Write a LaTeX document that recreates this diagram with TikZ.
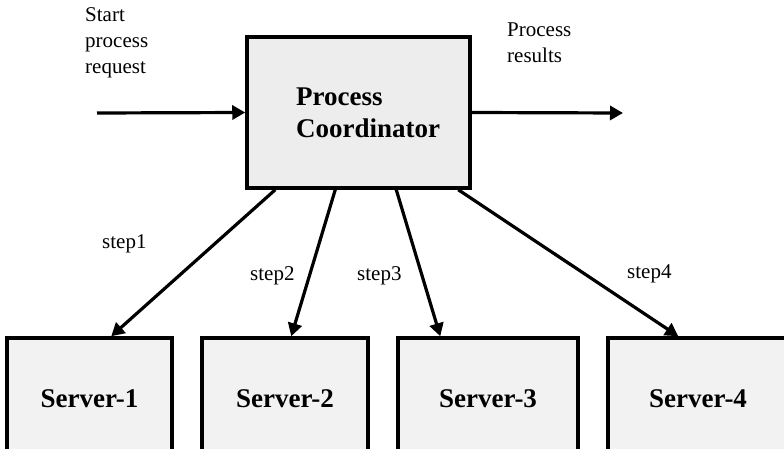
\documentclass[tikz,border=0pt]{standalone}
\usepackage{fontspec}
\setmainfont{Liberation Serif}
\usetikzlibrary{arrows.meta,calc}
\begin{document}
\begin{tikzpicture}[x=1pt,y=-1pt,
  coordbox/.style={draw=black,line width=3.5pt,fill=black!7,inner sep=0pt,minimum width=223pt,minimum height=151pt},
  serverbox/.style={draw=black,line width=3.5pt,fill=black!5,inner sep=0pt,minimum height=122pt,font=\bfseries\fontsize{27}{32}\selectfont},
  link/.style={line width=3.2pt,-{Triangle[length=13pt,width=14pt]}},
  lbl/.style={font=\fontsize{21}{26}\selectfont,inner sep=0pt,align=left},
  biglbl/.style={font=\bfseries\fontsize{27}{32}\selectfont,inner sep=0pt,align=left}
]
\useasboundingbox (0,0) rectangle (784,457);
\begin{scope}
\clip (0,0) rectangle (784,448);
\node[coordbox] (coord) at (358.5,112.5) {};
\node[biglbl,anchor=base west] (coordlbl) at (296,138) {Process\\Coordinator};
\node[serverbox,minimum width=165pt] (s1) at (89.5,399) {Server-1};
\node[serverbox,minimum width=166pt] (s2) at (285,399) {Server-2};
\node[serverbox,minimum width=180pt] (s3) at (488,399) {Server-3};
\node[serverbox,minimum width=180pt] (s4) at (698,399) {Server-4};
\end{scope}
\coordinate (inp) at (97,113);
\coordinate (outp) at (623,113);
\draw[link] (inp) -- (coord.west);
\draw[link] (coord.east) -- (outp);
\draw[link] ($(coord.south west)+(30,0)$) -- ($(s1.north west)+(106,0)$);
\draw[link] ($(coord.south west)+(90,0)$) -- ($(s2.north west)+(91,0)$);
\draw[link] ($(coord.south west)+(151,0)$) -- ($(s3.north west)+(44,0)$);
\draw[link] ($(coord.south west)+(213,0)$) -- ($(s4.north west)+(72,0)$);
\node[lbl,anchor=base west] (startlbl) at (85,74) {Start\\process\\request};
\node[lbl,anchor=base west] (reslbl) at (507,63) {Process\\results};
\node[lbl,anchor=base west] (st1) at (102,248) {step1};
\node[lbl,anchor=base west] (st2) at (250,280) {step2};
\node[lbl,anchor=base west] (st3) at (357,280) {step3};
\node[lbl,anchor=base west] (st4) at (627,278) {step4};
\end{tikzpicture}
\end{document}
